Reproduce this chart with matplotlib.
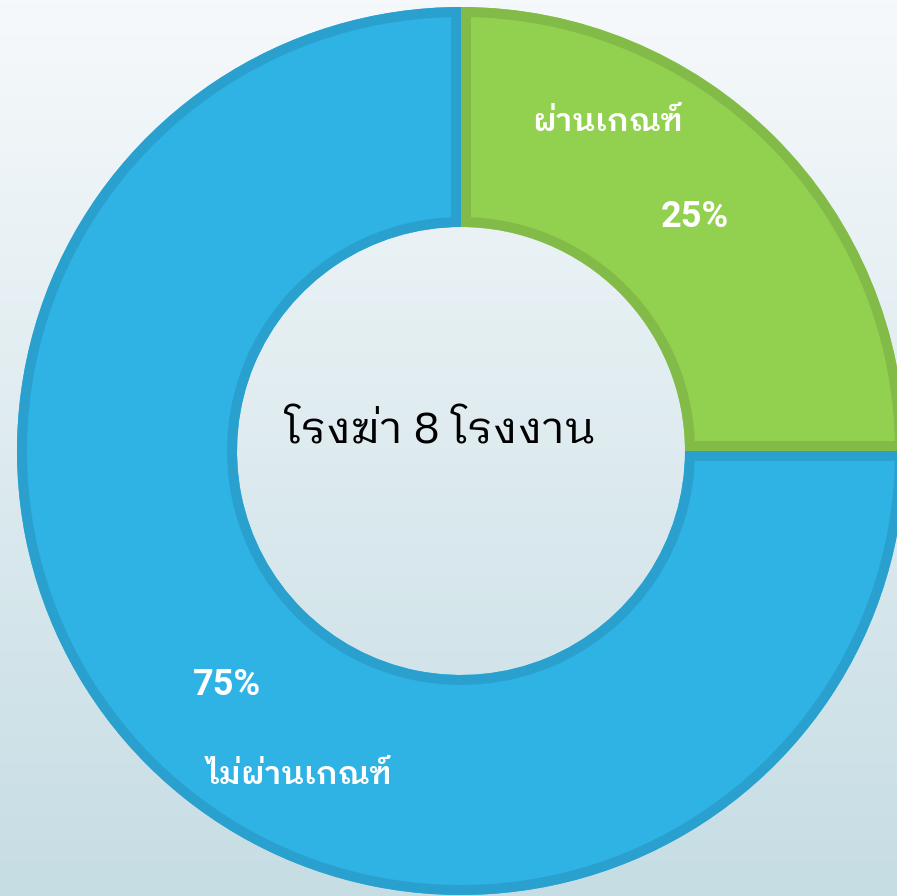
import numpy as np
import matplotlib
matplotlib.use('Agg')
import matplotlib.pyplot as plt
from matplotlib import font_manager
from matplotlib.ft2font import FT2Font
from matplotlib.patches import Wedge

# slaughterhouse inspection result
labels = ['ผ่านเกณฑ์', 'ไม่ผ่านเกณฑ์']
values = [25, 75]
colors = ['#92d050', '#2fb3e4']
edge_colors = ['#83bb48', '#2aa0cf']
center_text = 'โรงฆ่า 8 โรงงาน'

W, H, DPI = 897, 896, 100


def thai_family():
    # pick an installed family that actually has Thai glyphs
    found = []
    for f in font_manager.fontManager.ttflist:
        try:
            if 0x0E01 in FT2Font(f.fname).get_charmap():
                found.append(f.name)
        except Exception:
            pass
    found = sorted(set(found))
    for key in ('Looped', 'Thai'):
        for name in found:
            if key in name:
                return name
    return found[0] if found else 'DejaVu Sans'


THAI = thai_family()

fig = plt.figure(figsize=(W / DPI, H / DPI), dpi=DPI)
ax = fig.add_axes([0, 0, 1, 1])

# soft vertical background gradient
top = np.array([246, 249, 251]) / 255
bottom = np.array([198, 221, 228]) / 255
t = np.linspace(0, 1, 256)[:, None]
grad = top + (bottom - top) * t
ax.imshow(grad[:, None, :], extent=(0, W, 0, H), aspect='auto', zorder=0)

cx, cy = 461, H - 451
R = 444
ring = 224

wedges, _, autotexts = ax.pie(
    values, colors=colors, startangle=90, counterclock=False,
    center=(cx, cy), radius=R, autopct='%d%%', pctdistance=0.745,
    wedgeprops=dict(width=R - ring, linewidth=0),
    textprops=dict(color='white', fontsize=26, fontweight='bold', family='Roboto'),
)

# inner stroke: a wide outline clipped to the slice it belongs to
for w, ec in zip(wedges, edge_colors):
    w.set_zorder(1)
    rim = Wedge(w.center, w.r, w.theta1, w.theta2, width=w.width,
                facecolor='none', edgecolor=ec, linewidth=20 * 72 / DPI, zorder=2)
    ax.add_patch(rim)
    rim.set_clip_path(w)

for a in autotexts:
    a.set_zorder(3)

# category labels sit a little ahead of each slice's bisector
label_pos = [(0.81, 66.0), (0.815, 243.6)]
for text, (rr, ang) in zip(labels, label_pos):
    x = cx + rr * R * np.cos(np.radians(ang))
    y = cy + rr * R * np.sin(np.radians(ang))
    ax.text(x, y, text, color='white', fontsize=23, fontweight='semibold',
            family=[THAI, 'DejaVu Sans'], ha='center', va='center', zorder=3)

ax.text(cx - 21, cy + 19, center_text, color='black', fontsize=32,
        family=[THAI, 'DejaVu Sans'], ha='center', va='center', zorder=3)

ax.set_xlim(0, W)
ax.set_ylim(0, H)
ax.set_aspect('auto')
ax.axis('off')

fig.savefig('out.png', dpi=DPI)
